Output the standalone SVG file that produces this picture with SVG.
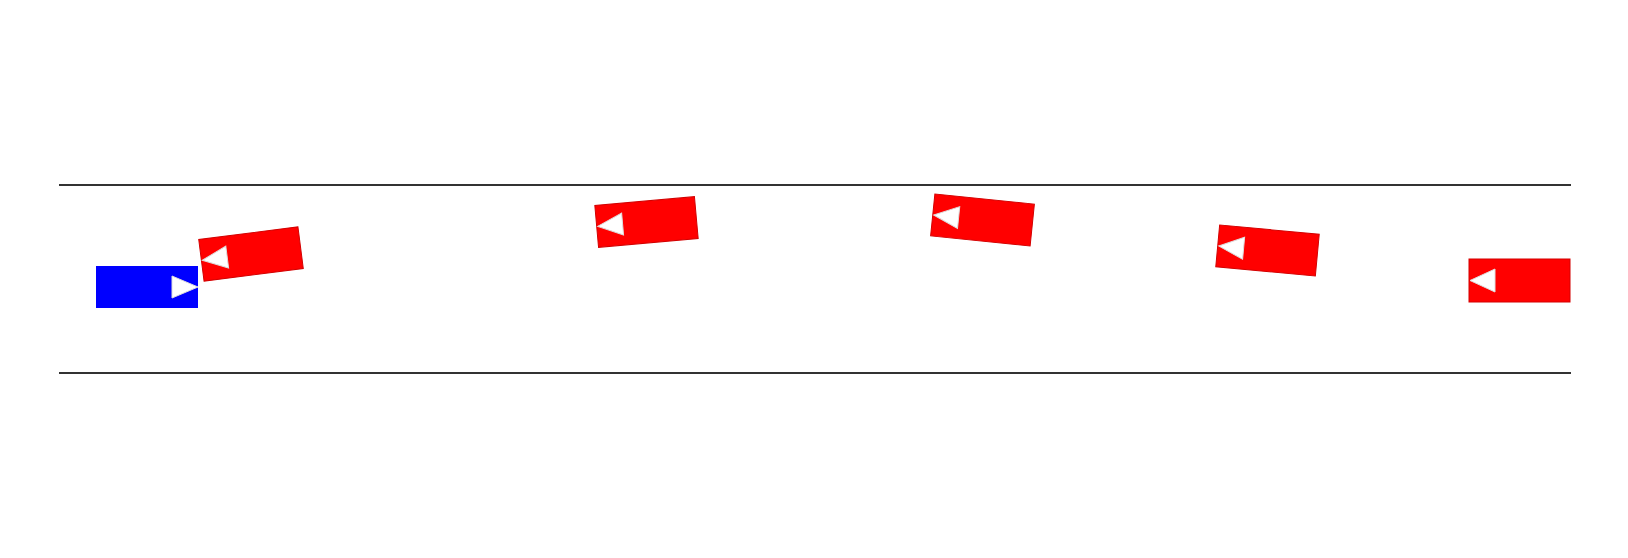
<svg xmlns="http://www.w3.org/2000/svg" width="1628" height="558" viewBox="0 0 1628 558">
  <style>
    .lane { stroke: #333333; stroke-width: 2; fill: none; }
    .red { fill: #ff0000; stroke: #d40000; stroke-width: 1; }
    .blue { fill: #0000ff; }
    .arrow { fill: #ffffff; stroke: #dddddd; stroke-width: 1; }
  </style>
  <rect width="1628" height="558" fill="#ffffff"/>
  <g id="road">
    <line class="lane" x1="59" y1="185" x2="1571" y2="185"/>
    <line class="lane" x1="59" y1="373" x2="1571" y2="373"/>
  </g>
  <g id="car-blue" transform="translate(147,287)">
    <rect class="blue" x="-51" y="-21" width="102" height="42"/>
    <polygon class="arrow" points="51,0 25,-11 25,11"/>
  </g>
  <g id="car-red-1" transform="translate(251,254) rotate(-7.3)">
    <rect class="red" x="-50" y="-21" width="100" height="42"/>
    <polygon class="arrow" points="-49,0 -24,-11 -24,11"/>
  </g>
  <g id="car-red-2" transform="translate(646.5,222) rotate(-5.1)">
    <rect class="red" x="-50" y="-21" width="100" height="42"/>
    <polygon class="arrow" points="-49,0 -24,-11 -24,11"/>
  </g>
  <g id="car-red-3" transform="translate(982.5,220) rotate(5.8)">
    <rect class="red" x="-50" y="-21" width="100" height="42"/>
    <polygon class="arrow" points="-49,0 -24,-11 -24,11"/>
  </g>
  <g id="car-red-4" transform="translate(1267.5,250.5) rotate(5.3)">
    <rect class="red" x="-50" y="-21" width="100" height="42"/>
    <polygon class="arrow" points="-49,0 -24,-11 -24,11"/>
  </g>
  <g id="car-red-5" transform="translate(1519.5,280.5)">
    <rect class="red" x="-50.5" y="-21.5" width="101" height="43"/>
    <polygon class="arrow" points="-49.5,0 -24.5,-11.5 -24.5,11.5"/>
  </g>
  <g id="connectors"></g>
</svg>
